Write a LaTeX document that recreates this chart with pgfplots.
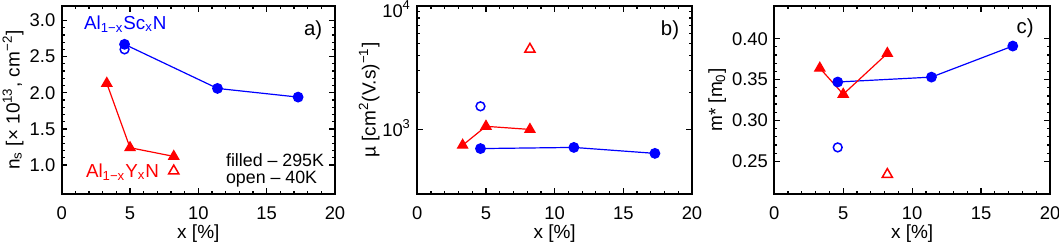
\documentclass[border=0pt]{standalone}
\usepackage{fontspec}
\setmainfont{Liberation Sans}
\usepackage{pgfplots}
\pgfplotsset{compat=1.18}
\definecolor{myblue}{RGB}{0,0,255}
\definecolor{myred}{RGB}{255,0,0}
\pgfplotsset{
  panel/.style={
    scale only axis, height=94pt,
    xmin=0, xmax=20, xtick={0,5,10,15,20}, minor x tick num=4,
    tick align=inside,
    axis line style={line width=0.9pt},
    every tick/.style={black, line width=0.6pt},
    major tick length=2.8pt, minor tick length=1.5pt,
    tick label style={font=\fontsize{9.2}{10}\selectfont},
    label style={font=\fontsize{9.5}{11}\selectfont},
    /pgf/number format/assume math mode=true,
    xticklabel style={anchor=base, yshift=-12.8pt},
    xlabel={x [\%]},
    xlabel style={at={(axis description cs:0.5,0)}, anchor=base, yshift=-22.5pt},
    yticklabel style={anchor=east, inner sep=0pt, xshift=-3pt},
    clip=false,
  },
  fc/.style={color=myblue, line width=0.6pt, mark=*, mark size=2.4pt, mark options={fill=myblue, draw=myblue}},
  oc/.style={color=myblue, only marks, mark=o, mark size=2.2pt, mark options={line width=0.75pt}},
  ft/.style={color=myred, line width=0.6pt, mark=triangle*, mark size=2.9pt, mark options={fill=myred, draw=myred}},
  ot/.style={color=myred, only marks, mark=triangle, mark size=2.9pt, mark options={line width=0.75pt}},
}
\begin{document}
\begin{tikzpicture}
\path[use as bounding box] (0,0) rectangle (529.5pt,120.5pt);
% ---------- a)
\begin{axis}[panel, at={(30.85pt,23.5pt)}, anchor=south west, width=136.65pt,
  ymin=0.6, ymax=3.2, ytick={1.0,1.5,2.0,2.5,3.0}, minor y tick num=4,
  yticklabel style={/pgf/number format/fixed, /pgf/number format/fixed zerofill, /pgf/number format/precision=1},
  ylabel={n\textsubscript{s} [× 10\textsuperscript{13}, cm\textsuperscript{−2}]},
  ylabel style={at={(axis description cs:-0.178,0.5)}, anchor=center}]
\addplot[fc] coordinates {(4.6,2.67) (11.4,2.06) (17.3,1.94)};
\addplot[oc] coordinates {(4.6,2.60)};
\addplot[ft] coordinates {(3.3,2.13) (5.0,1.24) (8.2,1.12)};
\addplot[ot] coordinates {(8.2,0.92)};
\node[text=myblue, font=\fontsize{9.4}{11}\selectfont] at (axis cs:4.65,2.95) {Al\textsubscript{1−x}Sc\textsubscript{x}N};
\node[text=myred, font=\fontsize{9.4}{11}\selectfont] at (axis cs:4.45,0.90) {Al\textsubscript{1−x}Y\textsubscript{x}N};
\node[font=\fontsize{10.2}{11}\selectfont] at (axis cs:18.4,2.87) {a)};
\node[anchor=west, font=\fontsize{8.9}{11}\selectfont, inner sep=0pt] at (axis cs:12.0,1.07) {filled – 295K};
\node[anchor=west, font=\fontsize{8.9}{11}\selectfont, inner sep=0pt] at (axis cs:12.0,0.81) {open – 40K};
\end{axis}
% ---------- b)
\begin{axis}[panel, at={(208.65pt,23.5pt)}, anchor=south west, width=137.35pt,
  ymode=log, ymin=300, ymax=10000, ytick={1000,10000},
  yticklabels={10\textsuperscript{3},\raisebox{-2.3pt}{10\textsuperscript{4}}},
  yticklabel style={anchor=base east, yshift=-3.3pt},
  ylabel={µ [cm\textsuperscript{2}(V.s)\textsuperscript{−1}]},
  ylabel style={at={(axis description cs:-0.175,0.5)}, anchor=center}]
\addplot[fc] coordinates {(4.6,700) (11.4,715) (17.3,640)};
\addplot[oc] coordinates {(4.6,1540)};
\addplot[ft] coordinates {(3.3,745) (5.0,1060) (8.2,1000)};
\addplot[ot] coordinates {(8.2,4470)};
\node[font=\fontsize{10.2}{11}\selectfont] at (axis cs:18.4,6380) {b)};
\end{axis}
% ---------- c)
\begin{axis}[panel, at={(387.15pt,23.5pt)}, anchor=south west, width=137.85pt,
  ymin=0.21, ymax=0.44, ytick={0.25,0.30,0.35,0.40}, minor y tick num=4,
  yticklabel style={/pgf/number format/fixed, /pgf/number format/fixed zerofill, /pgf/number format/precision=2},
  ylabel={m* [m\textsubscript{0}]},
  ylabel style={at={(axis description cs:-0.207,0.5)}, anchor=center}]
\addplot[fc] coordinates {(4.6,0.347) (11.4,0.353) (17.3,0.391)};
\addplot[oc] coordinates {(4.6,0.267)};
\addplot[ft] coordinates {(3.3,0.364) (5.0,0.332) (8.2,0.382)};
\addplot[ot] coordinates {(8.2,0.234)};
\node[font=\fontsize{10.2}{11}\selectfont] at (axis cs:18.2,0.4125) {c)};
\end{axis}
\end{tikzpicture}
\end{document}
